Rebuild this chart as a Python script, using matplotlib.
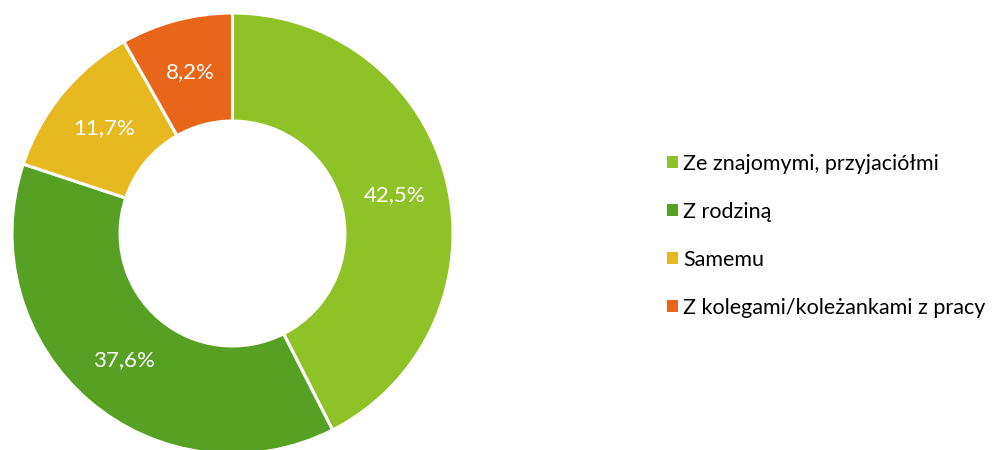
import matplotlib.pyplot as plt
from matplotlib.patches import Patch
import numpy as np

categories = ["Ze znajomymi, przyjaciółmi", "Z rodziną", "Samemu", "Z kolegami/koleżankami z pracy"]
values = [42.5, 37.6, 11.7, 8.2]
colors = ["#8FC227", "#56A123", "#E6B920", "#E8661A"]

plt.rcParams['font.family'] = ['Lato', 'DejaVu Sans']

fig = plt.figure(figsize=(9.99, 4.5), dpi=100)
ax = fig.add_axes([0, 0, 1, 1])

# pixel-based coordinates so the ring lands where it does in the reference
cx, cy, r = 232.5, 216.5, 220.5
hole = 0.51
wedges, _ = ax.pie(values, colors=colors, startangle=90, counterclock=False,
                   center=(cx, cy), radius=r,
                   wedgeprops=dict(width=r * (1 - hole), edgecolor='white', linewidth=2.2))

# percentage labels in the middle of the ring
mid_r = r * (1 + hole) / 2
angle = 90.0
for v in values:
    a = np.deg2rad(angle - v * 3.6 / 2)
    ax.text(cx + mid_r * np.cos(a), cy + mid_r * np.sin(a), f"{v:.1f}%".replace('.', ','),
            ha='center', va='center', color='white', fontsize=16)
    angle -= v * 3.6

ax.set_xlim(0, 999)
ax.set_ylim(0, 450)
ax.set_aspect('equal')
ax.axis('off')

handles = [Patch(facecolor=c, edgecolor='none') for c in colors]
ax.legend(handles, categories, loc='upper left', bbox_to_anchor=(667 / 999, 1 - 154 / 450),
          frameon=False, fontsize=15.5, handlelength=0.5, handleheight=0.5,
          handletextpad=0.25, labelspacing=1.3, borderaxespad=0, borderpad=0)

fig.savefig("out.png", dpi=100)
